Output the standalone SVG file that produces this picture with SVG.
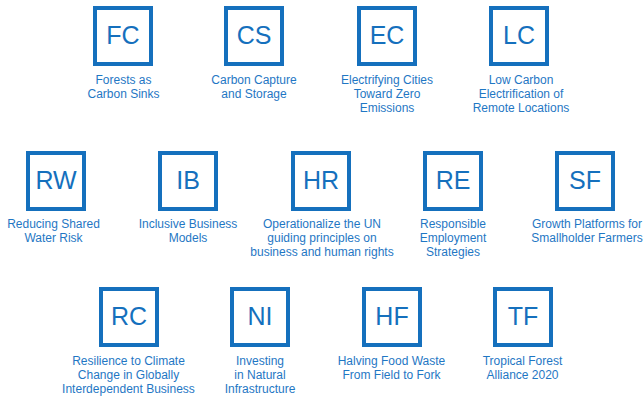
<svg xmlns="http://www.w3.org/2000/svg" width="644" height="400" viewBox="0 0 644 400">
<style>
.box{fill:#fff;stroke:#1570bd;stroke-width:4}
.abbr{font-family:"Liberation Sans",Arial,sans-serif;font-size:25px;fill:#1570bd;text-anchor:middle}
.lbl{font-family:"Liberation Sans",Arial,sans-serif;font-size:12px;fill:#1f77c4;text-anchor:middle}
</style>
<rect width="644" height="400" fill="#fff"/>
<g id="FC"><rect class="box" x="95" y="8" width="56" height="56"/><text class="abbr" x="123" y="44">FC</text>
<text class="lbl" x="123.5" y="83.5">Forests as</text><text class="lbl" x="123.5" y="97.7">Carbon Sinks</text></g>
<g id="CS"><rect class="box" x="226" y="8" width="56" height="56"/><text class="abbr" x="254" y="44">CS</text>
<text class="lbl" x="254" y="83.5">Carbon Capture</text><text class="lbl" x="254" y="97.7">and Storage</text></g>
<g id="EC"><rect class="box" x="359" y="8" width="56" height="56"/><text class="abbr" x="387" y="44">EC</text>
<text class="lbl" x="387" y="83.5">Electrifying Cities</text><text class="lbl" x="387" y="97.7">Toward Zero</text><text class="lbl" x="387" y="111.9">Emissions</text></g>
<g id="LC"><rect class="box" x="491" y="8" width="56" height="56"/><text class="abbr" x="519" y="44">LC</text>
<text class="lbl" x="521" y="83.5">Low Carbon</text><text class="lbl" x="521" y="97.7">Electrification of</text><text class="lbl" x="521" y="111.9">Remote Locations</text></g>

<g id="RW"><rect class="box" x="28" y="153" width="56" height="56"/><text class="abbr" x="56" y="189">RW</text>
<text class="lbl" x="53.5" y="227.5">Reducing Shared</text><text class="lbl" x="53.5" y="241.7">Water Risk</text></g>
<g id="IB"><rect class="box" x="160" y="153" width="56" height="56"/><text class="abbr" x="188" y="189">IB</text>
<text class="lbl" x="188" y="227.5">Inclusive Business</text><text class="lbl" x="188" y="241.7">Models</text></g>
<g id="HR"><rect class="box" x="293" y="153" width="56" height="56"/><text class="abbr" x="321" y="189">HR</text>
<text class="lbl" x="322" y="227.5">Operationalize the UN</text><text class="lbl" x="322" y="241.7">guiding principles on</text><text class="lbl" x="322" y="255.9">business and human rights</text></g>
<g id="RE"><rect class="box" x="425" y="153" width="56" height="56"/><text class="abbr" x="453" y="189">RE</text>
<text class="lbl" x="453" y="227.5">Responsible</text><text class="lbl" x="453" y="241.7">Employment</text><text class="lbl" x="453" y="255.9">Strategies</text></g>
<g id="SF"><rect class="box" x="557" y="153" width="56" height="56"/><text class="abbr" x="585" y="189">SF</text>
<text class="lbl" x="587" y="227.5">Growth Platforms for</text><text class="lbl" x="587" y="241.7">Smallholder Farmers</text></g>

<g id="RC"><rect class="box" x="101" y="289" width="56" height="56"/><text class="abbr" x="129" y="325">RC</text>
<text class="lbl" x="128.5" y="365">Resilience to Climate</text><text class="lbl" x="128.5" y="379.2">Change in Globally</text><text class="lbl" x="128.5" y="393.4">Interdependent Business</text></g>
<g id="NI"><rect class="box" x="232" y="289" width="56" height="56"/><text class="abbr" x="260" y="325">NI</text>
<text class="lbl" x="260" y="365">Investing</text><text class="lbl" x="260" y="379.2">in Natural</text><text class="lbl" x="260" y="393.4">Infrastructure</text></g>
<g id="HF"><rect class="box" x="364" y="289" width="56" height="56"/><text class="abbr" x="392" y="325">HF</text>
<text class="lbl" x="391.5" y="365">Halving Food Waste</text><text class="lbl" x="391.5" y="379.2">From Field to Fork</text></g>
<g id="TF"><rect class="box" x="495" y="289" width="56" height="56"/><text class="abbr" x="523" y="325">TF</text>
<text class="lbl" x="522.5" y="365">Tropical Forest</text><text class="lbl" x="522.5" y="379.2">Alliance 2020</text></g>
<g id="connectors"/>
</svg>
